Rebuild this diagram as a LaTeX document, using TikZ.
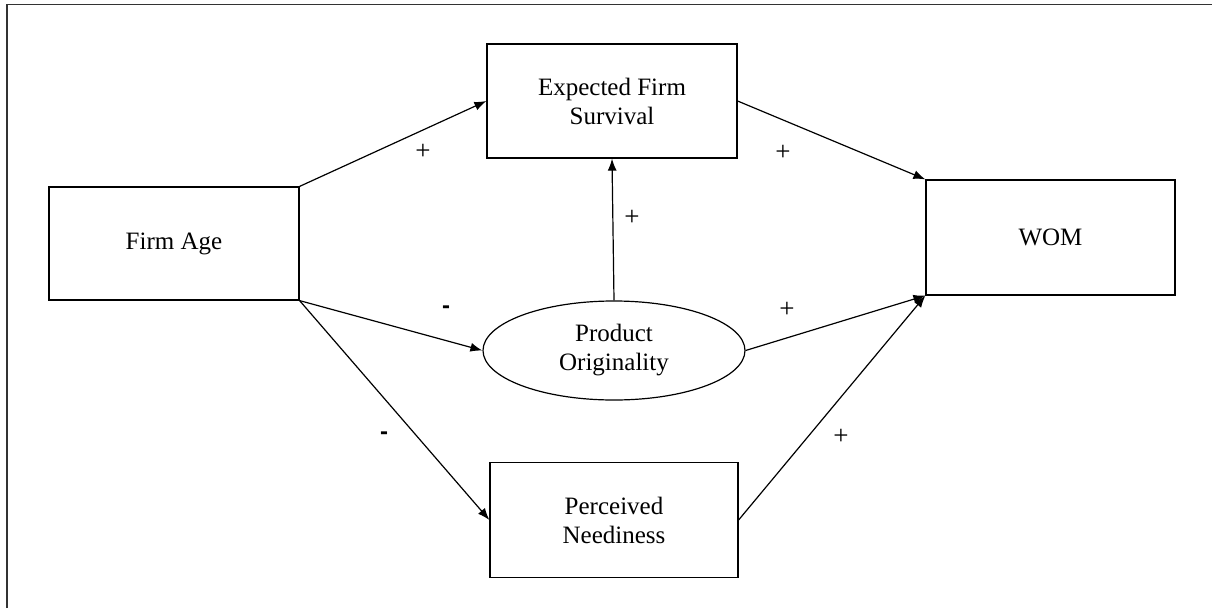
\documentclass[tikz,border=0pt]{standalone}
\usepackage{fontspec}
\setmainfont{Liberation Serif}
\setsansfont{Liberation Sans}
\usetikzlibrary{arrows.meta,shapes.geometric}
\begin{document}
\begin{tikzpicture}[x=1pt,y=-1pt,
  every node/.style={font=\fontsize{25}{29}\selectfont},
  construct/.style={draw,line width=1.2pt,rectangle,inner sep=0pt,align=center},
  oval/.style={draw,line width=1.2pt,ellipse,inner sep=0pt,align=center,minimum width=262pt,minimum height=99pt},
  link/.style={line width=1.2pt,-{Latex[length=12pt,width=9pt]}},
  sign/.style={font=\fontsize{27}{30}\selectfont},
  neg/.style={font=\sffamily\bfseries\fontsize{24}{28}\selectfont}]
\useasboundingbox (0,0) rectangle (1212,608);
% outer frame (top and left edges)
\draw[line width=1.5pt,black!80] (7,608) -- (7,4.5) -- (1212,4.5);
% constructs
\node[construct,minimum width=250pt,minimum height=113pt] (age) at (174,243.5) {Firm Age};
\node[construct,minimum width=250pt,minimum height=114pt] (surv) at (612,101) {Expected Firm\\Survival};
\node[construct,minimum width=249pt,minimum height=115pt] (wom) at (1050.5,237.5) {WOM};
\node[construct,minimum width=248pt,minimum height=115pt] (need) at (614,520) {Perceived\\Neediness};
\node[oval] (orig) at (614,350.5) {Product\\Originality};
% paths
\draw[link] (age.north east) -- (surv.west);
\draw[link] (surv.east) -- (wom.north west);
\draw[link] (orig.north) -- (surv.south);
\draw[link] (age.south east) -- (orig.west);
\draw[link] (age.south east) -- (need.west);
\draw[link] (orig.east) -- (wom.south west);
\draw[link] (need.east) -- (wom.south west);
% signs
\node[sign] (s1) at (423,152) {+};
\node[sign] (s2) at (783,153) {+};
\node[sign] (s3) at (632,218) {+};
\node[neg] (s4) at (446,310) {-};
\node[sign] (s5) at (787,310) {+};
\node[neg] (s6) at (384,436) {-};
\node[sign] (s7) at (841,437) {+};
\end{tikzpicture}
\end{document}
